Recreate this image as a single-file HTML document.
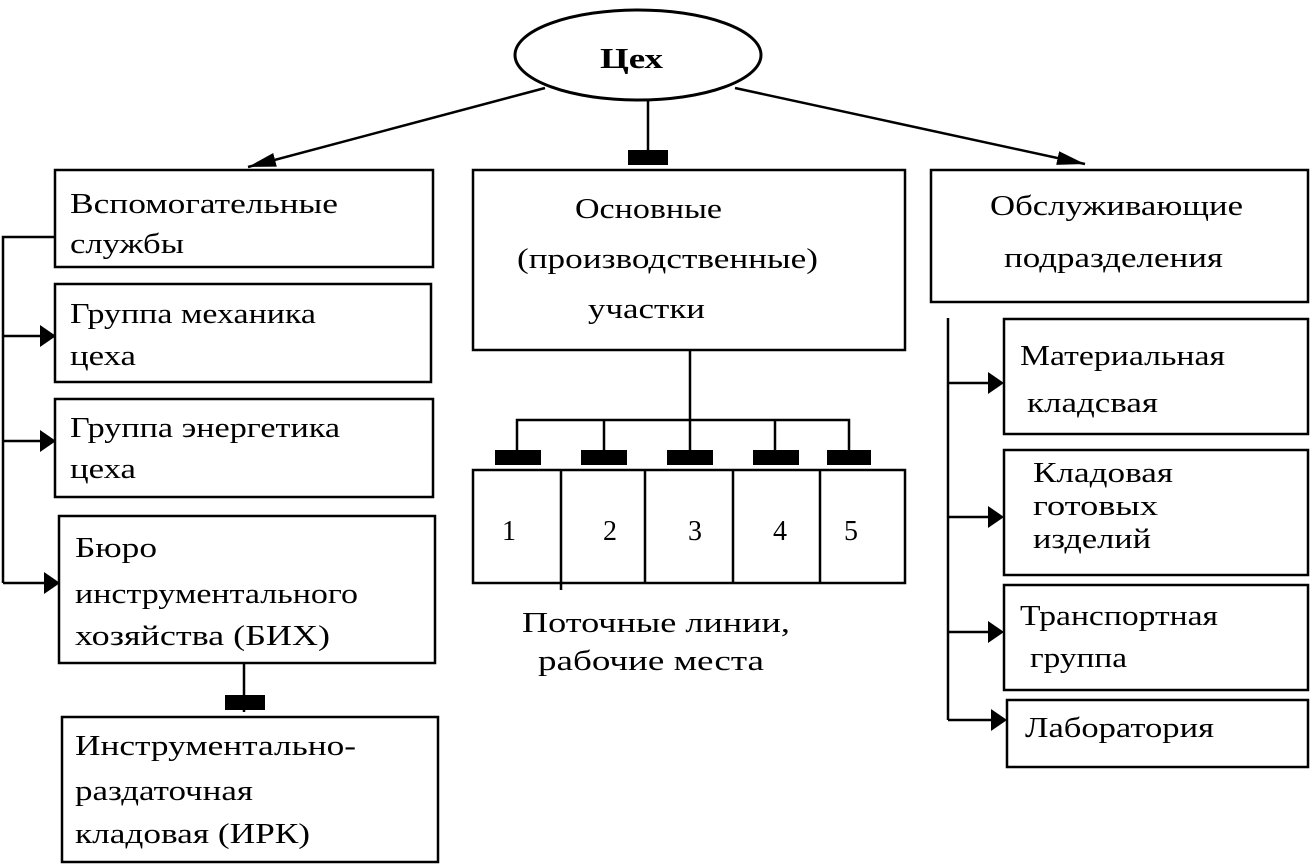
<!DOCTYPE html>
<html><head><meta charset="utf-8"><style>html,body{margin:0;padding:0;background:#fff}svg{display:block}text{font-family:"Liberation Serif",serif;font-size:28px;fill:#000}</style></head>
<body>
<svg width="1311" height="864" viewBox="0 0 1311 864" xmlns="http://www.w3.org/2000/svg">
<defs><marker id="a" markerWidth="16" markerHeight="22" refX="14" refY="11" orient="auto" markerUnits="userSpaceOnUse"><path d="M0,0 L16,11 L0,22 Z" fill="#000"/></marker>
<marker id="b" markerWidth="30" markerHeight="18" refX="28" refY="9" orient="auto" markerUnits="userSpaceOnUse"><path d="M0,2 L28,9 L0,16 Z" fill="#000"/></marker></defs>
<g fill="none" stroke="#000" stroke-width="2.5">
<ellipse cx="638" cy="55" rx="123" ry="45" stroke-width="3"/>
<line x1="545" y1="88" x2="248" y2="167" marker-end="url(#b)"/>
<line x1="735" y1="88" x2="1085" y2="164" marker-end="url(#b)"/>
<line x1="648" y1="100" x2="648" y2="160"/>
<rect x="55" y="170" width="378" height="97"/>
<rect x="55" y="284" width="376" height="98"/>
<rect x="55" y="399" width="378" height="98"/>
<rect x="59" y="516" width="376" height="147"/>
<rect x="62" y="717" width="376" height="145"/>
<polyline points="55,237 3,237 3,583"/>
<line x1="3" y1="336" x2="54" y2="336" marker-end="url(#a)"/>
<line x1="3" y1="441" x2="54" y2="441" marker-end="url(#a)"/>
<line x1="3" y1="583" x2="58" y2="583" marker-end="url(#a)"/>
<line x1="244" y1="663" x2="244" y2="712"/>
<rect x="473" y="170" width="432" height="180"/>
<line x1="690" y1="350" x2="690" y2="420"/>
<polyline points="517,460 517,420 849,420 849,460"/>
<line x1="604" y1="420" x2="604" y2="460"/><line x1="775" y1="420" x2="775" y2="460"/>
<line x1="690" y1="420" x2="690" y2="460"/>
<rect x="473" y="470" width="432" height="113"/>
<line x1="561" y1="470" x2="561" y2="590"/><line x1="645" y1="470" x2="645" y2="583"/>
<line x1="733" y1="470" x2="733" y2="583"/><line x1="820" y1="470" x2="820" y2="583"/>
<rect x="931" y="170" width="377" height="132"/>
<line x1="948" y1="318" x2="948" y2="720"/>
<line x1="948" y1="383" x2="1002" y2="383" marker-end="url(#a)"/>
<line x1="948" y1="517" x2="1002" y2="517" marker-end="url(#a)"/>
<line x1="948" y1="632" x2="1002" y2="632" marker-end="url(#a)"/>
<line x1="948" y1="720" x2="1005" y2="720" marker-end="url(#a)"/>
<rect x="1004" y="319" width="304" height="115"/>
<rect x="1004" y="450" width="304" height="125"/>
<rect x="1004" y="585" width="304" height="105"/>
<rect x="1007" y="700" width="301" height="67"/>
</g>
<g fill="#000">
<rect x="628" y="150" width="40" height="15"/>
<rect x="225" y="695" width="40" height="15"/>
<rect x="495" y="450" width="46" height="15"/><rect x="581" y="450" width="46" height="15"/>
<rect x="667" y="450" width="46" height="15"/><rect x="753" y="450" width="46" height="15"/>
<rect x="827" y="450" width="44" height="15"/>
</g>
<text x="600" y="68" font-weight="bold" font-size="30" textLength="63" lengthAdjust="spacingAndGlyphs">Цех</text>
<text x="70" y="213" textLength="268" lengthAdjust="spacingAndGlyphs">Вспомогательные</text>
<text x="70" y="253" textLength="114" lengthAdjust="spacingAndGlyphs">службы</text>
<text x="70" y="323" textLength="246" lengthAdjust="spacingAndGlyphs">Группа механика</text>
<text x="70" y="365" textLength="66" lengthAdjust="spacingAndGlyphs">цеха</text>
<text x="70" y="437" textLength="270" lengthAdjust="spacingAndGlyphs">Группа энергетика</text>
<text x="70" y="478" textLength="66" lengthAdjust="spacingAndGlyphs">цеха</text>
<text x="75" y="557" textLength="82" lengthAdjust="spacingAndGlyphs">Бюро</text>
<text x="75" y="603" textLength="283" lengthAdjust="spacingAndGlyphs">инструментального</text>
<text x="75" y="645" textLength="255" lengthAdjust="spacingAndGlyphs">хозяйства (БИХ)</text>
<text x="75" y="755" textLength="281" lengthAdjust="spacingAndGlyphs">Инструментально-</text>
<text x="75" y="800" textLength="178" lengthAdjust="spacingAndGlyphs">раздаточная</text>
<text x="75" y="843" textLength="235" lengthAdjust="spacingAndGlyphs">кладовая (ИРК)</text>
<text x="575" y="218" textLength="147" lengthAdjust="spacingAndGlyphs">Основные</text>
<text x="517" y="268" textLength="301" lengthAdjust="spacingAndGlyphs">(производственные)</text>
<text x="588" y="318" textLength="117" lengthAdjust="spacingAndGlyphs">участки</text>
<text x="502" y="540">1</text><text x="603" y="540">2</text><text x="688" y="540">3</text><text x="773" y="540">4</text><text x="844" y="540">5</text>
<text x="522" y="632" textLength="268" lengthAdjust="spacingAndGlyphs">Поточные линии,</text>
<text x="538" y="670" textLength="226" lengthAdjust="spacingAndGlyphs">рабочие места</text>
<text x="990" y="215" textLength="253" lengthAdjust="spacingAndGlyphs">Обслуживающие</text>
<text x="1004" y="267" textLength="219" lengthAdjust="spacingAndGlyphs">подразделения</text>
<text x="1020" y="365" textLength="205" lengthAdjust="spacingAndGlyphs">Материальная</text>
<text x="1027" y="412" textLength="131" lengthAdjust="spacingAndGlyphs">кладсвая</text>
<text x="1033" y="482" textLength="140" lengthAdjust="spacingAndGlyphs">Кладовая</text>
<text x="1033" y="515" textLength="125" lengthAdjust="spacingAndGlyphs">готовых</text>
<text x="1033" y="548" textLength="118" lengthAdjust="spacingAndGlyphs">изделий</text>
<text x="1020" y="625" textLength="198" lengthAdjust="spacingAndGlyphs">Транспортная</text>
<text x="1030" y="667" textLength="97" lengthAdjust="spacingAndGlyphs">группа</text>
<text x="1025" y="737" textLength="189" lengthAdjust="spacingAndGlyphs">Лаборатория</text>
</svg>
</body></html>
